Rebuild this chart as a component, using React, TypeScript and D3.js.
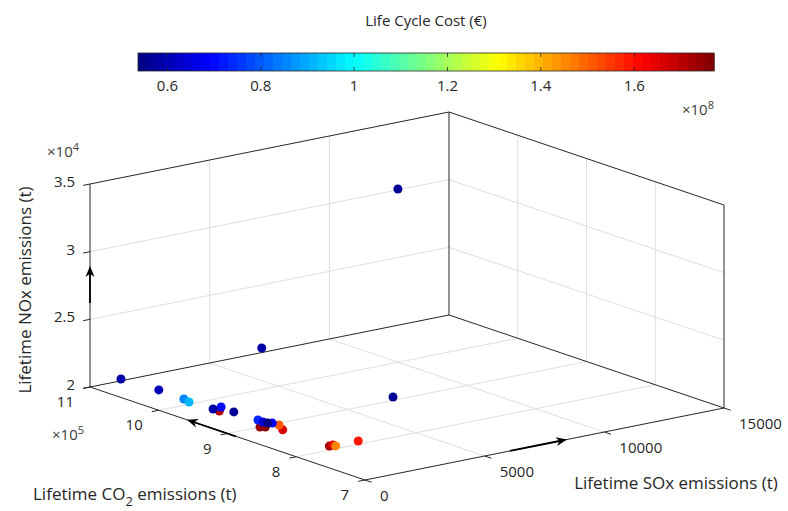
import React from 'react';
import * as d3 from 'd3';

// axis ticks
const soxTicks = [0, 5000, 10000, 15000];
const co2Ticks = [7, 8, 9, 10, 11]; // x10^5 t
const noxTicks = [2, 2.5, 3, 3.5]; // x10^4 t
const costTicks = [0.6, 0.8, 1, 1.2, 1.4, 1.6]; // x10^8 €

// design points (drawing order)
const soxValues = [545, 410, 580, 750, 785, 930, 1900, 1065, 930, 590, 490, 940, 900, 880, 1040, 930, 895, 575, 635, 490, 5910, 2810, 10050];
const co2Values = [8.64, 8.67, 9.32, 7.78, 8.47, 7.79, 7.76, 8.62, 7.75, 9.84, 9.73, 9.42, 8.87, 8.79, 8.71, 8.74, 9.22, 9.41, 10.22, 10.72, 8.65, 9.48, 10.02];
const noxValues = [2.09, 2.09, 2.09, 2.09, 2.09, 2.09, 2.09, 2.09, 2.09, 2.09, 2.09, 2.09, 2.09, 2.09, 2.09, 2.09, 2.09, 2.09, 2.09, 2.09, 2.12, 2.45, 3.275];
const costValues = [1.771, 1.74, 1.7, 1.72, 1.66, 1.64, 1.58, 1.52, 1.45, 0.86, 0.92, 0.7, 0.74, 0.64, 0.68, 0.537, 0.56, 0.58, 0.6, 0.59, 0.57, 0.58, 0.56];

const W = 788;
const H = 511;
const INK = '#262626';
const FONT = '"Open Sans", sans-serif';

// MATLAB jet colormap, 64 levels
const jet = (t: number) => {
  const c = (v: number) => Math.max(0, Math.min(1, v));
  const r = c(Math.min(4 * t - 1.5, -4 * t + 4.5));
  const g = c(Math.min(4 * t - 0.5, -4 * t + 3.5));
  const b = c(Math.min(4 * t + 0.5, -4 * t + 2.5));
  return d3.rgb(r * 255, g * 255, b * 255).formatHex();
};
const N_COLORS = 64;

// 3D view: unit box -> screen
const sx = d3.scaleLinear().domain([0, 15000]).range([0, 1]);
const sy = d3.scaleLinear().domain([7, 11]).range([0, 1]);
const sz = d3.scaleLinear().domain([2, 3.5]).range([0, 1]);
const view = { ox: 365, oy: 480, ux: 359, uy: -72, vx: -275, vy: -93, wy: -203 };
const P = (u: number, v: number, w: number): [number, number] => [
  view.ox + view.ux * u + view.vx * v,
  view.oy + view.uy * u + view.vy * v + view.wy * w,
];
const proj = (s: number, c: number, n: number) => P(sx(s), sy(c), sz(n));
const seg = (a: [number, number], b: [number, number]) => `M${a[0]},${a[1]}L${b[0]},${b[1]}`;

const Arrow: React.FC<{ from: [number, number]; to: [number, number] }> = ({ from, to }) => {
  const dx = to[0] - from[0];
  const dy = to[1] - from[1];
  const len = Math.hypot(dx, dy);
  const ex = dx / len, ey = dy / len;
  const nx = -ey, ny = ex;
  const hl = 11, hw = 4.5;
  const bx = to[0] - ex * hl, by = to[1] - ey * hl;
  const notch: [number, number] = [to[0] - ex * hl * 0.7, to[1] - ey * hl * 0.7];
  const head = `M${to[0]},${to[1]}L${bx + nx * hw},${by + ny * hw}L${notch[0]},${notch[1]}L${bx - nx * hw},${by - ny * hw}Z`;
  return (
    <g>
      <path d={seg(from, notch)} stroke="#000" strokeWidth={1.8} />
      <path d={head} fill="#000" />
    </g>
  );
};

const App: React.FC = () => {
  const cMin = d3.min(costValues)!;
  const cMax = d3.max(costValues)!;
  const cbX = d3.scaleLinear().domain([cMin, cMax]).range([138, 714]);
  const cbTop = 53, cbH = 18;
  const colorOf = (v: number) => {
    const i = Math.min(N_COLORS - 1, Math.floor(((v - cMin) / (cMax - cMin)) * N_COLORS));
    return jet((i + 0.5) / N_COLORS);
  };

  const grid: string[] = [];
  // floor
  soxTicks.slice(1, -1).forEach(s => grid.push(seg(proj(s, 7, 2), proj(s, 11, 2))));
  co2Ticks.slice(1, -1).forEach(c => grid.push(seg(proj(0, c, 2), proj(15000, c, 2))));
  // back-left wall (co2 = 11)
  soxTicks.slice(1, -1).forEach(s => grid.push(seg(proj(s, 11, 2), proj(s, 11, 3.5))));
  noxTicks.slice(1, -1).forEach(n => grid.push(seg(proj(0, 11, n), proj(15000, 11, n))));
  // right wall (sox = 15000)
  co2Ticks.slice(1, -1).forEach(c => grid.push(seg(proj(15000, c, 2), proj(15000, c, 3.5))));
  noxTicks.slice(1, -1).forEach(n => grid.push(seg(proj(15000, 7, n), proj(15000, 11, n))));

  const box = [
    seg(proj(0, 11, 2), proj(0, 11, 3.5)),
    seg(proj(15000, 11, 2), proj(15000, 11, 3.5)),
    seg(proj(15000, 7, 2), proj(15000, 7, 3.5)),
    seg(proj(0, 11, 3.5), proj(15000, 11, 3.5)),
    seg(proj(15000, 11, 3.5), proj(15000, 7, 3.5)),
    seg(proj(0, 11, 2), proj(15000, 11, 2)),
    seg(proj(15000, 11, 2), proj(15000, 7, 2)),
    seg(proj(0, 11, 2), proj(0, 7, 2)),
    seg(proj(0, 7, 2), proj(15000, 7, 2)),
  ];

  // outward tick directions
  const tu = [-0.98 * 7, 0.197 * 7];
  const tv = [0.948 * 7, 0.32 * 7];

  return (
    <svg width={W} height={H} style={{ position: 'absolute', left: 0, top: 0, background: '#fff' }} fontFamily={FONT}>
      {/* colorbar */}
      <text x={(cbX.range()[0] + cbX.range()[1]) / 2} y={26} textAnchor="middle" fontSize={15} fill={INK}>Life Cycle Cost (€)</text>
      {d3.range(N_COLORS).map(i => {
        const v0 = cMin + ((cMax - cMin) * i) / N_COLORS;
        const v1 = cMin + ((cMax - cMin) * (i + 1)) / N_COLORS;
        return <rect key={i} x={cbX(v0)} y={cbTop} width={cbX(v1) - cbX(v0) + 0.6} height={cbH} fill={jet((i + 0.5) / N_COLORS)} />;
      })}
      <rect x={cbX.range()[0]} y={cbTop} width={cbX.range()[1] - cbX.range()[0]} height={cbH} fill="none" stroke={INK} strokeWidth={0.8} />
      {costTicks.map(t => (
        <g key={t}>
          <line x1={cbX(t)} x2={cbX(t)} y1={cbTop + cbH} y2={cbTop + cbH - 4} stroke={INK} strokeWidth={0.8} />
          <line x1={cbX(t)} x2={cbX(t)} y1={cbTop} y2={cbTop + 4} stroke={INK} strokeWidth={0.8} />
          <text x={cbX(t)} y={91} textAnchor="middle" fontSize={15} fill={INK}>{t}</text>
        </g>
      ))}
      <text x={cbX.range()[1]} y={115} textAnchor="end" fontSize={15} fill="#404040">
        ×10<tspan fontSize={11} dy={-6}>8</tspan>
      </text>

      {/* grid */}
      {grid.map((d, i) => <path key={i} d={d} stroke="#dedede" strokeWidth={1} fill="none" />)}
      {/* box */}
      {box.map((d, i) => <path key={i} d={d} stroke={INK} strokeWidth={1} fill="none" />)}

      {/* SOx axis */}
      {soxTicks.map(s => {
        const [x, y] = proj(s, 7, 2);
        return (
          <g key={s}>
            <line x1={x} y1={y} x2={x + tv[0]} y2={y + tv[1]} stroke={INK} />
            <text x={x + 15} y={y + 21} fontSize={15} fill={INK}>{s}</text>
          </g>
        );
      })}
      <text x={676} y={489} textAnchor="middle" fontSize={17} fill={INK}>Lifetime SOx emissions (t)</text>

      {/* CO2 axis */}
      {co2Ticks.map(c => {
        const [x, y] = proj(0, c, 2);
        return (
          <g key={c}>
            <line x1={x} y1={y} x2={x + tu[0]} y2={y + tu[1]} stroke={INK} />
            <text x={x - 16} y={y + 20} textAnchor="end" fontSize={15} fill={INK}>{c}</text>
          </g>
        );
      })}
      <text x={52} y={440} fontSize={15} fill="#404040">×10<tspan fontSize={11} dy={-6}>5</tspan></text>
      <text x={33} y={500} fontSize={17} fill={INK}>
        Lifetime CO<tspan fontSize={13} dy={6}>2</tspan><tspan dy={-6}> emissions (t)</tspan>
      </text>

      {/* NOx axis */}
      {noxTicks.map(n => {
        const [x, y] = proj(0, 11, n);
        return (
          <g key={n}>
            <line x1={x} y1={y} x2={x + tu[0]} y2={y + tu[1]} stroke={INK} />
            <text x={x - 15} y={y + 3} textAnchor="end" fontSize={15} fill={INK}>{n}</text>
          </g>
        );
      })}
      <text x={47} y={157} fontSize={15} fill="#404040">×10<tspan fontSize={11} dy={-6}>4</tspan></text>
      <text transform="translate(31,290) rotate(-90)" textAnchor="middle" fontSize={17} fill={INK}>Lifetime NOx emissions (t)</text>

      {/* points */}
      {soxValues.map((s, i) => {
        const [x, y] = proj(s, co2Values[i], noxValues[i]);
        return <circle key={i} cx={x} cy={y} r={4.5} fill={colorOf(costValues[i])} />;
      })}

      {/* direction arrows */}
      <Arrow from={proj(0, 11, 2.62)} to={proj(0, 11, 2.894)} />
      <Arrow from={proj(0, 8.88, 2)} to={proj(0, 9.59, 2)} />
      <Arrow from={proj(6060, 7, 2)} to={proj(8440, 7, 2)} />
    </svg>
  );
};

export default App;
